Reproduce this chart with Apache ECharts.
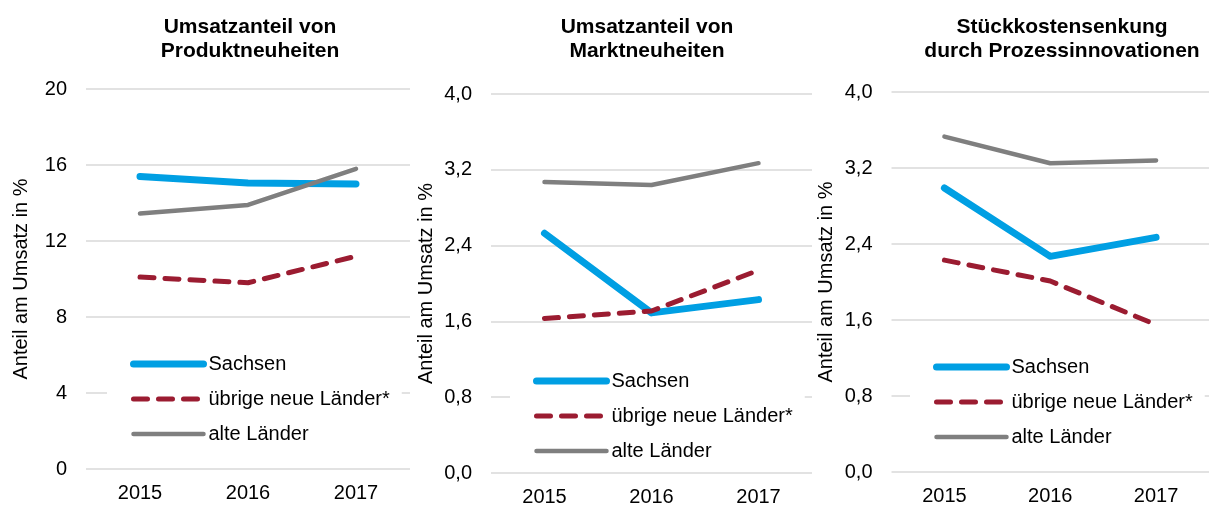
<!DOCTYPE html>
<html>
<head>
<meta charset="utf-8">
<script src="https://cdn.jsdelivr.net/npm/echarts@6/dist/echarts.min.js"></script>
<style>
  html, body { margin: 0; padding: 0; background: #fff; }
  #chart { width: 1209px; height: 509px; }
</style>
</head>
<body>
<div id="chart"></div>
<script>
var years = ['2015', '2016', '2017'];
var seriesNames = ['Sachsen', 'übrige neue Länder*', 'alte Länder'];
var panelTitles = [
  'Umsatzanteil von\nProduktneuheiten',
  'Umsatzanteil von\nMarktneuheiten',
  'Stückkostensenkung\ndurch Prozessinnovationen'
];
var yAxisName = 'Anteil am Umsatz in %';

// Panel 1: Umsatzanteil von Produktneuheiten
var produktSachsen = [15.4, 15.05, 15.0];
var produktUebrige = [10.1, 9.8, 11.2];
var produktAlte = [13.45, 13.9, 15.8];

// Panel 2: Umsatzanteil von Marktneuheiten
var marktSachsen = [2.53, 1.69, 1.83];
var marktUebrige = [1.63, 1.71, 2.14];
var marktAlte = [3.07, 3.04, 3.27];

// Panel 3: Stückkostensenkung durch Prozessinnovationen
var kostenSachsen = [2.99, 2.27, 2.47];
var kostenUebrige = [2.23, 2.01, 1.55];
var kostenAlte = [3.53, 3.25, 3.28];

var yMax = [20, 4, 4];
var yStep = [4, 0.8, 0.8];

var font = 'Liberation Sans, Arial, sans-serif';
var lineStyles = [
  { color: '#009FE3', width: 7, type: 'solid' },
  { color: '#9B1C31', width: 5, type: [14, 11] },
  { color: '#7F7F7F', width: 4.5, type: 'solid' }
];

var panelData = [
  [produktSachsen, produktUebrige, produktAlte],
  [marktSachsen, marktUebrige, marktAlte],
  [kostenSachsen, kostenUebrige, kostenAlte]
];

// layout of the three panels
var grids = [
  { left: 86, top: 89, width: 324, height: 380 },
  { left: 491, top: 94, width: 321, height: 379 },
  { left: 891.5, top: 92, width: 322.5, height: 380 }
];
var titleX = [245, 642, 1057];
var legendPos = [
  { left: 107, top: 346 },
  { left: 510, top: 363 },
  { left: 910, top: 349 }
];

var chart = echarts.init(document.getElementById('chart'));

var option = {
  backgroundColor: '#ffffff',
  animation: false,
  title: [],
  grid: [],
  xAxis: [],
  yAxis: [],
  legend: [],
  series: []
};

for (var p = 0; p < 3; p++) {
  option.title.push({
    text: panelTitles[p],
    left: titleX[p],
    top: 10,
    textAlign: 'center',
    textStyle: {
      fontFamily: font, fontSize: 21, fontWeight: 'bold',
      color: '#000', lineHeight: 24
    }
  });

  option.grid.push(grids[p]);

  option.xAxis.push({
    type: 'category',
    gridIndex: p,
    data: years,
    boundaryGap: true,
    axisLine: { show: false },
    axisTick: { show: false },
    axisLabel: { margin: 14, fontFamily: font, fontSize: 20, color: '#000' }
  });

  (function (step, decimals) {
    option.yAxis.push({
      type: 'value',
      gridIndex: p,
      min: 0,
      max: yMax[p],
      interval: step,
      name: yAxisName,
      nameLocation: 'middle',
      nameGap: 55,
      nameTextStyle: { fontFamily: font, fontSize: 20, color: '#000' },
      axisLine: { show: false },
      axisTick: { show: false },
      splitLine: { lineStyle: { color: '#D9D9D9', width: 1.5 } },
      axisLabel: {
        margin: 19,
        fontFamily: font, fontSize: 20, color: '#000',
        formatter: function (v) {
          return v.toFixed(decimals).replace('.', ',');
        }
      }
    });
  })(yStep[p], p === 0 ? 0 : 1);

  option.legend.push({
    data: seriesNames,
    orient: 'vertical',
    left: legendPos[p].left,
    top: legendPos[p].top,
    padding: [8, 12, 8, 23],
    backgroundColor: '#ffffff',
    itemWidth: 70,
    itemHeight: 20,
    itemGap: 15,
    selectedMode: false,
    itemStyle: { opacity: 0 },
    lineStyle: { width: 'inherit', type: 'inherit', cap: 'round' },
    textStyle: { fontFamily: font, fontSize: 20, color: '#000' }
  });

  for (var s = 0; s < 3; s++) {
    option.series.push({
      name: seriesNames[s],
      type: 'line',
      xAxisIndex: p,
      yAxisIndex: p,
      data: panelData[p][s],
      symbol: 'none',
      lineStyle: {
        color: lineStyles[s].color,
        width: lineStyles[s].width,
        type: lineStyles[s].type,
        cap: 'round',
        join: 'round'
      },
      itemStyle: { color: lineStyles[s].color }
    });
  }
}

chart.setOption(option);
</script>
</body>
</html>
